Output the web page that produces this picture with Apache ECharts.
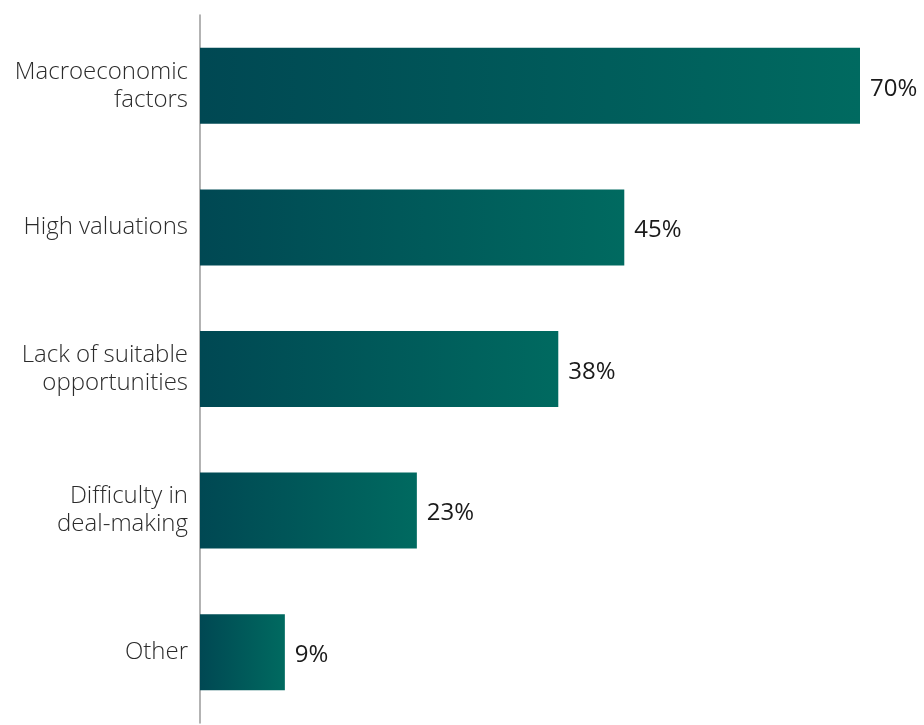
<!DOCTYPE html>
<html>
<head>
<meta charset="utf-8">
<script src="https://cdn.jsdelivr.net/npm/echarts@6/dist/echarts.min.js"></script>
<style>
  html, body { margin: 0; padding: 0; background: #ffffff; }
  #chart { width: 924px; height: 725px; }
</style>
</head>
<body>
<div id="chart"></div>
<script>
// Reasons cited, share of respondents (%)
const categories = [
  'Macroeconomic\nfactors',
  'High valuations',
  'Lack of suitable\nopportunities',
  'Difficulty in\ndeal-making',
  'Other'
];
const values = [70, 45, 38, 23, 9];

const fontFamily = '"Open Sans", Lato, sans-serif';

const chart = echarts.init(document.getElementById('chart'));
chart.setOption({
  animation: false,
  grid: { left: 200, right: 64, top: 15, bottom: 2, containLabel: false },
  xAxis: {
    type: 'value',
    min: 0,
    max: 70,
    show: false
  },
  yAxis: {
    type: 'category',
    data: categories,
    inverse: true,
    axisLine: { show: true, lineStyle: { color: '#9a9a9a', width: 1.5 } },
    axisTick: { show: false },
    axisLabel: {
      color: '#2b2b2b',
      fontFamily: fontFamily,
      fontWeight: 300,
      fontSize: 24,
      lineHeight: 28,
      align: 'right',
      margin: 12,
      padding: [6, 0, 0, 0]
    }
  },
  series: [{
    type: 'bar',
    data: values,
    barWidth: 76,
    itemStyle: {
      color: new echarts.graphic.LinearGradient(0, 0, 1, 0, [
        { offset: 0, color: '#004853' },
        { offset: 1, color: '#006a60' }
      ])
    },
    label: {
      show: true,
      position: 'right',
      distance: 10,
      offset: [0, 3],
      formatter: '{c}%',
      color: '#1a1a1a',
      fontFamily: fontFamily,
      fontWeight: 400,
      fontSize: 24
    }
  }]
});
</script>
</body>
</html>
